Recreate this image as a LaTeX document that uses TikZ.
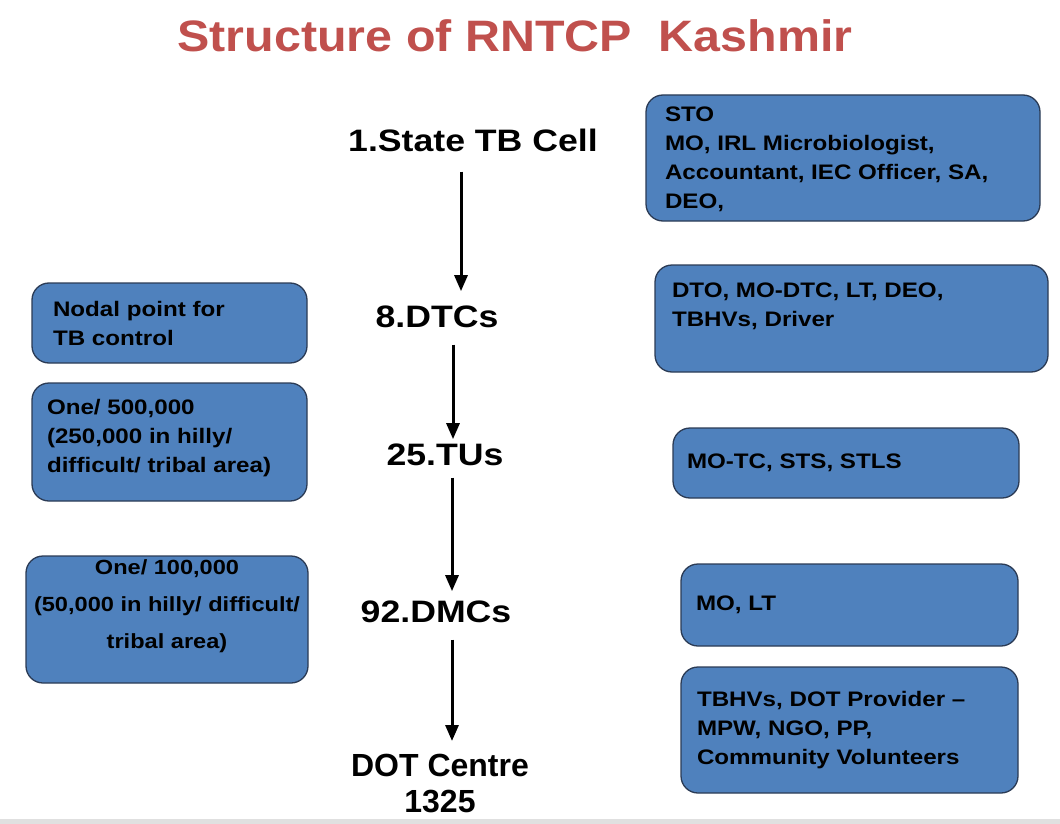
\documentclass[tikz,border=0pt]{standalone}
\usepackage{fontspec}
\setmainfont{Liberation Sans}
\newfontfamily\widefont[FakeStretch=1.15]{Liberation Sans}
\newfontfamily\titlefont[FakeStretch=1.1]{Liberation Sans}
\usetikzlibrary{arrows.meta}
\definecolor{boxblue}{HTML}{4F81BD}
\definecolor{boxline}{HTML}{2B3B55}
\definecolor{titlered}{HTML}{C0504D}
\tikzset{
  level/.style={anchor=base, inner sep=0pt,
    font=\widefont\bfseries\fontsize{31}{36}\selectfont},
  infobox/.style={draw=boxline, fill=boxblue, line width=1.3pt,
    rounded corners=17pt, inner sep=0pt,
    font=\widefont\bfseries\fontsize{21}{29}\selectfont},
  flow/.style={-{Triangle[length=16pt,width=13pt]}, line width=3pt}
}
\begin{document}
\begin{tikzpicture}[x=1pt,y=-1pt]
  \useasboundingbox (0,0) rectangle (1060,824);
  \fill[black!12] (0,819) rectangle (1060,824);
  \node[anchor=base, inner sep=0pt, text=titlered,
    font=\titlefont\bfseries\fontsize{44}{50}\selectfont]
    (title) at (515,52) {Structure of RNTCP\ \ Kashmir};
  % levels
  \node[level] (cell) at (473,152) {1.State TB Cell};
  \node[level] (dtc) at (437,327) {8.DTCs};
  \node[level] (tu) at (445,465) {25.TUs};
  \node[level] (dmc) at (436,622) {92.DMCs};
  \node[level, anchor=north, align=center, font=\bfseries\fontsize{32}{36}\selectfont]
    (dot) at (440,754) {DOT Centre\\1325};
  \begin{scope}[flow]
    \draw[shorten <=19pt, shorten >=14pt] ([xshift=-12pt]cell.south) to ([xshift=24pt]dtc.north);
    \draw[shorten <=17pt, shorten >=4pt] ([xshift=16pt]dtc.south) to ([xshift=8pt]tu.north);
    \draw[shorten <=12pt, shorten >=9pt] ([xshift=7pt]tu.south) to ([xshift=16pt]dmc.north);
    \draw[shorten <=17pt, shorten >=13pt] ([xshift=16pt]dmc.south) to ([xshift=12pt]dot.north);
  \end{scope}
  % staff
  \node[infobox, inner xsep=19pt, inner ysep=12pt] (sto) at (843,158)
    {\parbox[c][102pt][t]{356pt}{STO\\MO, IRL Microbiologist,\\Accountant, IEC Officer, SA,\\DEO,}};
  \node[infobox, inner xsep=17pt, inner ysep=18pt] (dto) at (851.5,318.5)
    {\parbox[c][71pt][t]{359pt}{DTO, MO-DTC, LT, DEO,\\TBHVs, Driver}};
  \node[infobox, inner xsep=14pt] (motc) at (846,463)
    {\parbox[c][70pt][c]{318pt}{MO-TC, STS, STLS}};
  \node[infobox, inner xsep=15pt] (molt) at (849.5,605)
    {\parbox[c][82pt][c]{307pt}{MO, LT}};
  \node[infobox, inner xsep=16pt] (prov) at (849.5,730)
    {\parbox[c][126pt][c]{305pt}{TBHVs, DOT Provider –\\MPW, NGO, PP,\\Community Volunteers}};
  % norms
  \node[infobox, inner xsep=21pt] (nodal) at (169.5,323)
    {\parbox[c][80pt][c]{233pt}{Nodal point for\\TB control}};
  \node[infobox, inner xsep=15pt, inner ysep=16pt] (tunorm) at (169.5,442)
    {\parbox[c][86pt][t]{245pt}{One/ 500,000\\(250,000 in hilly/\\difficult/ tribal area)}};
  \node[infobox, inner ysep=4pt] (dmcnorm) at (167,619.5)
    {\parbox[c][119pt][t]{282pt}{\centering\fontsize{20.5}{37}\selectfont
      One/ 100,000\\(50,000 in hilly/ difficult/\\tribal area)}};
\end{tikzpicture}
\end{document}
